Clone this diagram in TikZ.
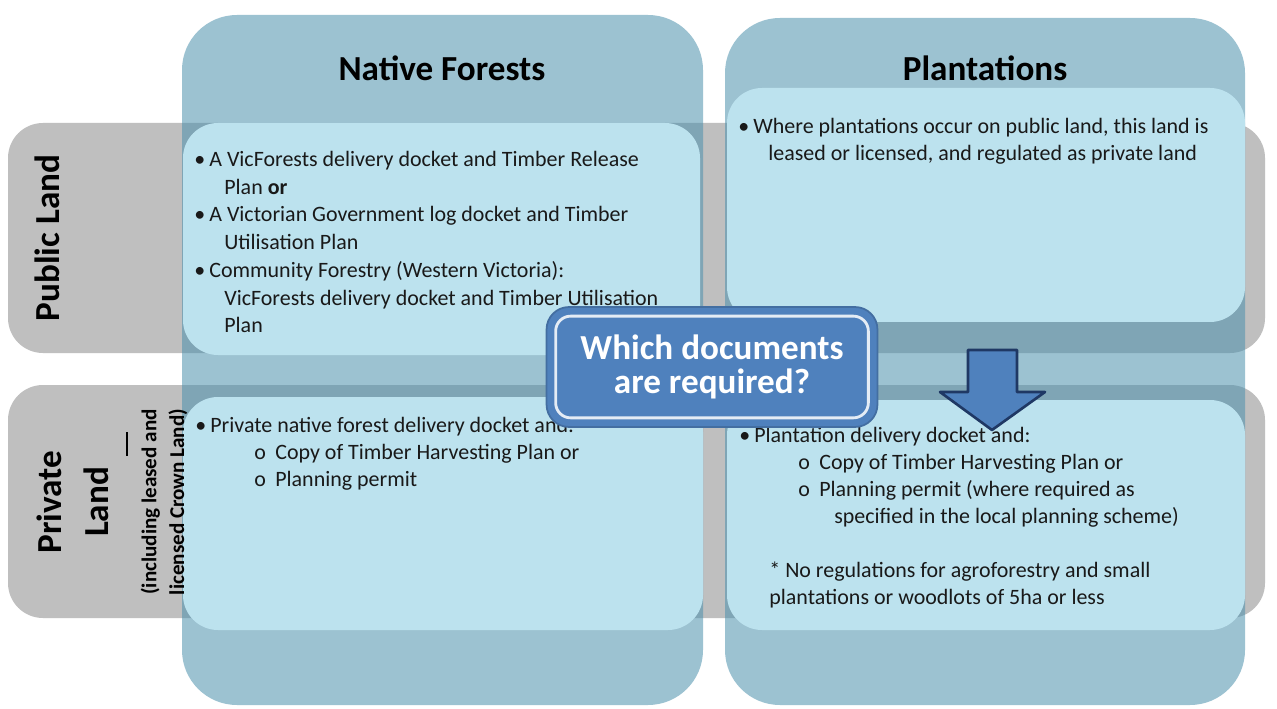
\documentclass[tikz,border=0pt]{standalone}
\usepackage{fontspec}
\setmainfont{Carlito}
\usepackage{xcolor}
\definecolor{rowgray}{RGB}{191,191,191}
\definecolor{colblue}{RGB}{76,145,173}
\definecolor{cellblue}{RGB}{188,226,238}
\definecolor{qblue}{RGB}{79,129,189}
\definecolor{qedge}{RGB}{31,56,100}
\definecolor{inktext}{RGB}{25,25,25}

\newcommand{\bul}{\strut\makebox[0.3cm][l]{\textbullet}}
\newcommand{\cont}{\strut\hspace*{0.6cm}}
\newcommand{\subbul}{\strut\hspace*{1.18cm}\makebox[0.42cm][l]{o}}

\tikzset{
  landrow/.style={fill=rowgray, rounded corners=0.7cm},
  forestcol/.style={fill=colblue, fill opacity=0.55, rounded corners=1.1cm},
  cellbox/.style={fill=cellblue, rounded corners=0.7cm},
  celltext/.style={anchor=north west, align=left, inner sep=0pt, text=inktext},
  heading/.style={font=\fontsize{20}{26.6}\selectfont\bfseries, text=black, align=center},
}

\begin{document}
\begin{tikzpicture}[x=0.02cm,y=-0.02cm]
\useasboundingbox (0,0) rectangle (1277,709);
\fill[white] (0,0) rectangle (1277,709);

\fill[landrow] (8,123) rectangle (1265,353);
\fill[landrow] (8,385) rectangle (1265,618);

\fill[forestcol] (182,15) rectangle (703,705);
\fill[forestcol] (725,18) rectangle (1245,705);

\fill[cellbox] (183,123) rectangle (700,355);
\fill[cellbox] (727,88) rectangle (1245,322);
\fill[cellbox] (183,397) rectangle (703,630);
\fill[cellbox] (727,400) rectangle (1245,630);

\node[heading] (native) at (442,68) {Native Forests};
\node[heading] (plant) at (985,68) {Plantations};
\node[heading, rotate=90] (public) at (47,238) {Public Land};
\node[heading, rotate=90] (private) at (73,502) {Private\\Land};
\node[rotate=90, align=center, font=\fontsize{12}{15.9}\selectfont\bfseries] (crown) at (164,502)
  {(including leased and\\licensed Crown Land)};
\draw[line width=1pt] (127,432) -- (127,456);

\node[celltext, font=\fontsize{12.5}{15.8}\selectfont] (nfpublic) at (194,146.5) {%
\bul A VicForests delivery docket and Timber Release\\
\cont Plan \textbf{or}\\
\bul A Victorian Government log docket and Timber\\
\cont Utilisation Plan\\
\bul Community Forestry (Western Victoria):\\
\cont VicForests delivery docket and Timber Utilisation\\
\cont Plan};

\node[celltext, font=\fontsize{12.5}{15.6}\selectfont] (plpublic) at (738,113.5) {%
\bul Where plantations occur on public land, this land is\\
\cont leased or licensed, and regulated as private land};

\node[celltext, font=\fontsize{12.5}{15.6}\selectfont] (nfprivate) at (195,412.5) {%
\bul Private native forest delivery docket and:\\
\subbul Copy of Timber Harvesting Plan or\\
\subbul Planning permit};

\node[celltext, font=\fontsize{12.5}{15.4}\selectfont] (plprivate) at (739,423) {%
\bul Plantation delivery docket and:\\
\subbul Copy of Timber Harvesting Plan or\\
\subbul Planning permit (where required as\\
\strut\hspace*{1.9cm}specified in the local planning scheme)\\
\strut\\
\cont * No regulations for agroforestry and small\\
\cont plantations or woodlots of 5ha or less};

\node[draw=qblue!85!black, line width=1pt, fill=qblue, rounded corners=0.45cm,
  minimum width=6.62cm, minimum height=2.4cm, text=white, align=center,
  font=\fontsize{20}{19.4}\selectfont\bfseries] (question) at (712,367)
  {Which documents\\are required?};
\draw[white, opacity=0.85, line width=1.6pt, rounded corners=0.3cm]
  ([shift={(10,10)}]question.north west) rectangle ([shift={(-10,-10)}]question.south east);

\filldraw[fill=qblue, draw=qedge, line width=1.5pt, line join=round]
  (968,350) -- (1017,350) -- (1017,392) -- (1045,392) -- (992,430)
  -- (940,392) -- (968,392) -- cycle;
\end{tikzpicture}
\end{document}
